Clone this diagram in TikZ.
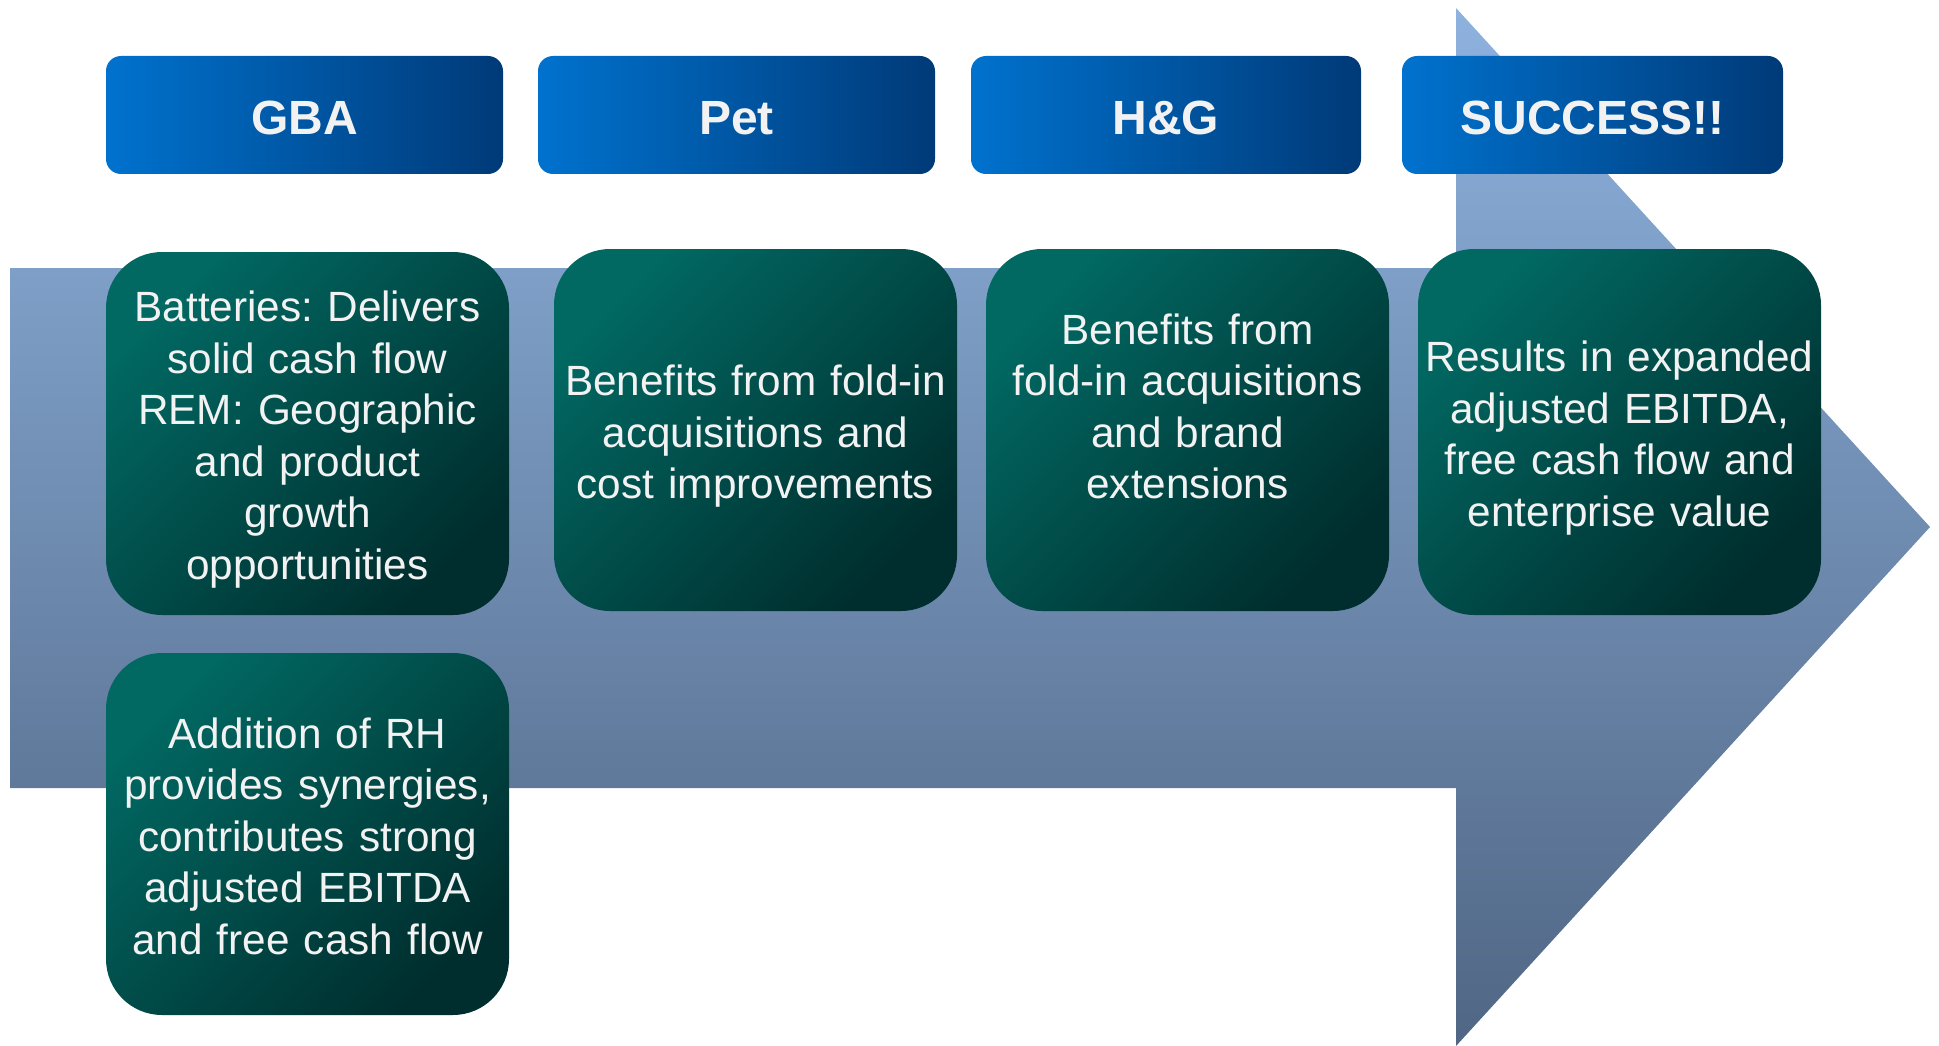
\documentclass[tikz,border=0pt]{standalone}
\usepackage{fontspec}
\setmainfont{Liberation Sans}
\frenchspacing
\definecolor{hdrL}{RGB}{0,114,206}
\definecolor{hdrR}{RGB}{0,58,120}
\definecolor{grnA}{RGB}{1,104,98}
\definecolor{grnB}{RGB}{0,46,46}
\definecolor{arrT}{RGB}{142,178,222}
\definecolor{arrB}{RGB}{80,102,132}
\definecolor{txt}{RGB}{242,242,242}
\newcommand{\topst}{\rule{0pt}{43pt}}
\newcommand{\botst}[1][9pt]{\rule[-#1]{0pt}{#1}}
\begin{document}
\begin{tikzpicture}[x=1pt,y=-1pt,
  header/.style={rounded corners=15pt, left color=hdrL, right color=hdrR,
    minimum height=118pt, inner sep=0pt, text=txt, text height=39pt, text depth=0pt,
    font=\bfseries\fontsize{48}{57}\selectfont},
  card/.style={rounded corners=56pt, top color=grnA, bottom color=grnB, shading angle=45,
    minimum width=403pt, inner sep=0pt, text=txt, align=center, text width=403pt,
    font=\fontsize{42.3}{51.5}\selectfont}]
\useasboundingbox (0,0) rectangle (1939,1046);
% big arrow
\path[top color=arrT, bottom color=arrB]
  (10,268) -- (1456,268) -- (1456,8) -- (1930,527) -- (1456,1046) -- (1456,788) -- (10,788) -- cycle;
% headers
\node[header, minimum width=397pt] (gba) at (304.5,115) {GBA};
\node[header, minimum width=397pt] (pet) at (736.5,115) {Pet};
\node[header, minimum width=390pt] (hg) at (1166,115) {H\&G};
\node[header, minimum width=381pt] (succ) at (1592.5,115) {SUCCESS!!};
% cards
\node[card, minimum height=363pt] (c1) at (307.5,433.5)
  {\topst Batteries: Delivers\\solid cash flow\\REM: Geographic\\and product\\growth\\opportunities\botst};
\node[card, minimum height=362pt] (c2) at (755.5,430)
  {\topst Benefits from fold-in\\acquisitions and\\cost improvements\botst};
\node[card, minimum height=362pt] (c3) at (1187.5,430)
  {\topst Benefits from\\fold-in acquisitions\\and brand\\extensions\botst[60pt]};
\node[card, minimum height=366pt] (c4) at (1619.5,432)
  {\topst Results in expanded\\adjusted EBITDA,\\free cash flow and\\enterprise value\botst};
\node[card, minimum height=362pt] (c5) at (307.5,834)
  {\topst Addition of RH\\provides synergies,\\contributes strong\\adjusted EBITDA\\and free cash flow\botst};
\end{tikzpicture}
\end{document}
